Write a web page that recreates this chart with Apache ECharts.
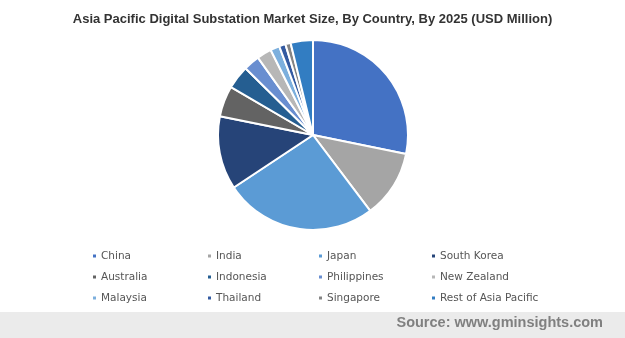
<!DOCTYPE html>
<html><head><meta charset="utf-8">
<script src="https://cdn.jsdelivr.net/npm/echarts@6/dist/echarts.min.js"></script>
<style>html,body{margin:0;padding:0;background:#fff}#c{width:625px;height:338px}</style>
</head><body><div id="c"></div>
<script>
const categories = ["China","India","Japan","South Korea","Australia","Indonesia","Philippines","New Zealand","Malaysia","Thailand","Singapore","Rest of Asia Pacific"];
const values = [28.25, 11.5, 26.0, 12.5, 5.25, 4.0, 2.75, 2.5, 1.55, 1.1, 0.9, 3.8];
const colors = ["#4472C4","#A5A5A5","#5B9BD5","#264478","#636363","#255E91","#698ED0","#B7B7B7","#7CAFDD","#335AA1","#848484","#327DC2"];
const titleText = "Asia Pacific Digital Substation Market Size, By Country, By 2025 (USD Million)";
const sourceText = "Source: www.gminsights.com";

const chart = echarts.init(document.getElementById('c'));
const colLefts = [86, 201, 312, 425];
const legends = colLefts.map((x, i) => ({
  orient: 'vertical', left: x, top: 245,
  data: [categories[i], categories[i+4], categories[i+8]],
  icon: 'rect', itemWidth: 5, itemHeight: 5, itemGap: 9,
  textStyle: { fontFamily: 'DejaVu Sans', fontSize: 10.5, color: '#555', padding: [0,0,0,-1], lineHeight: 12 },
  selectedMode: false
}));
chart.setOption({
  animation: false,
  color: colors,
  title: { text: titleText, left: 'center', top: 8,
    textStyle: { fontFamily: 'Liberation Sans', fontWeight: 'bold', fontSize: 13, color: '#333' } },
  legend: legends,
  graphic: [
    { type: 'rect', shape: { x: 0, y: 312, width: 625, height: 26 }, style: { fill: '#EBEBEB' } },
    { type: 'text', right: 22, top: 315, style: { text: sourceText, fill: '#808080',
      font: 'bold 14.5px "Liberation Sans"' } }
  ],
  series: [{
    type: 'pie', center: [313, 135], radius: 95, startAngle: 90, clockwise: true,
    label: { show: false }, labelLine: { show: false },
    itemStyle: { borderColor: '#fff', borderWidth: 2 },
    emphasis: { disabled: true },
    data: categories.map((n, i) => ({ name: n, value: values[i] }))
  }]
});
</script></body></html>
